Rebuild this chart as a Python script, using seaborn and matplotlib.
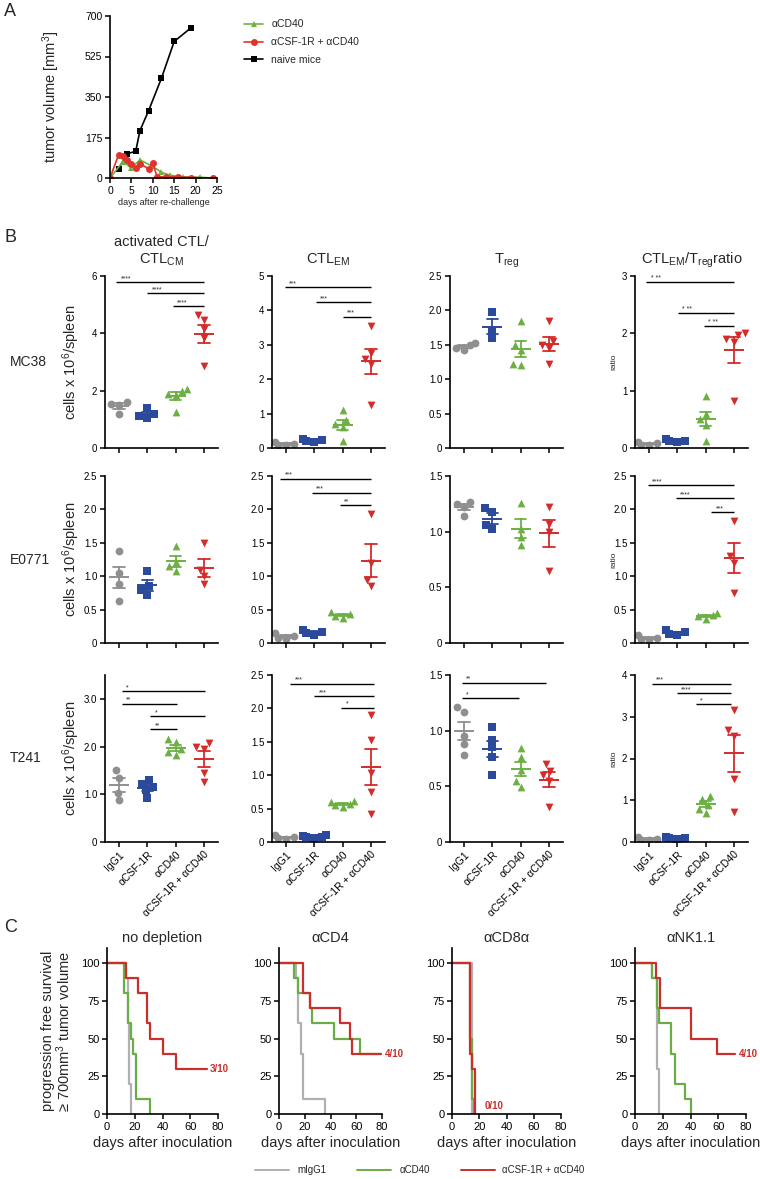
import matplotlib
matplotlib.use("Agg")
import matplotlib.pyplot as plt
from matplotlib.lines import Line2D
import numpy as np
import pandas as pd
import seaborn as sns

# ---------------- data ----------------
groups = ["IgG1", "αCSF-1R", "αCD40", "αCSF-1R + αCD40"]
group_colors = ["#8f8f8f", "#2c4a9c", "#6cb044", "#d42b2b"]
group_markers = ["o", "s", "^", "v"]

# panel A: tumor volume after re-challenge
a_days_naive = [2, 4, 6, 7, 9, 12, 15, 19]
a_vol_naive = [40, 105, 115, 205, 290, 430, 590, 650]
a_days_cd40 = [0, 3, 5, 7, 10, 12, 14, 17, 21, 24]
a_vol_cd40 = [0, 70, 45, 78, 50, 25, 12, 5, 3, 0]
a_days_combo = [0, 2, 3, 4, 5, 6, 7, 9, 10, 11, 13, 16, 19, 24]
a_vol_combo = [0, 100, 95, 78, 60, 45, 62, 40, 65, 5, 5, 5, 2, 0]

# panel B: cells x 10^6 / spleen (one list per group, order = groups)
mc38_act = [[1.6, 1.55, 1.5, 1.2], [1.4, 1.2, 1.1, 1.05], [2.05, 2.0, 1.9, 1.85, 1.25], [4.65, 4.45, 4.15, 3.85, 2.85]]
mc38_em = [[0.16, 0.12, 0.1, 0.08], [0.25, 0.22, 0.2, 0.18], [1.1, 0.8, 0.7, 0.6, 0.2], [3.55, 2.75, 2.6, 2.45, 1.25]]
mc38_treg = [[1.53, 1.5, 1.46, 1.42], [1.97, 1.72, 1.6], [1.85, 1.5, 1.42, 1.22, 1.2], [1.85, 1.55, 1.5, 1.45, 1.22]]
mc38_ratio = [[0.1, 0.08, 0.06, 0.05], [0.15, 0.13, 0.12, 0.1], [0.9, 0.6, 0.5, 0.4, 0.12], [2.0, 1.97, 1.9, 1.85, 0.82]]
e0771_act = [[1.38, 1.05, 0.88, 0.63], [1.08, 0.85, 0.8, 0.72], [1.45, 1.22, 1.15, 1.08], [1.5, 1.1, 1.0, 0.88]]
e0771_em = [[0.15, 0.1, 0.08, 0.06], [0.2, 0.17, 0.15, 0.12], [0.47, 0.43, 0.4, 0.38], [1.93, 1.2, 0.95, 0.85]]
e0771_treg = [[1.27, 1.25, 1.22, 1.14], [1.21, 1.18, 1.06, 1.02], [1.26, 1.02, 0.95, 0.88], [1.22, 1.07, 1.0, 0.65]]
e0771_ratio = [[0.12, 0.08, 0.06, 0.05], [0.2, 0.16, 0.13, 0.12], [0.45, 0.42, 0.4, 0.36], [1.83, 1.3, 1.2, 0.75]]
t241_act = [[1.5, 1.35, 1.03, 0.87], [1.3, 1.22, 1.15, 1.08, 0.92], [2.15, 2.1, 1.95, 1.88, 1.82], [2.08, 2.0, 1.95, 1.45, 1.25]]
t241_em = [[0.1, 0.07, 0.06, 0.05], [0.1, 0.09, 0.08, 0.07, 0.06], [0.62, 0.6, 0.57, 0.55, 0.53], [1.9, 1.52, 1.03, 0.75, 0.42]]
t241_treg = [[1.21, 1.17, 0.95, 0.88, 0.78], [1.03, 0.92, 0.85, 0.76, 0.6], [0.84, 0.76, 0.65, 0.55, 0.49], [0.7, 0.64, 0.6, 0.55, 0.31]]
t241_ratio = [[0.12, 0.08, 0.05, 0.04], [0.12, 0.1, 0.09, 0.08], [1.1, 1.02, 0.88, 0.8, 0.7], [3.16, 2.68, 2.55, 1.52, 0.72]]

# significance bars: (from group, to group, height, stars)
mc38_act_sig = [(-0.1, 3.0, 5.78, "****"), (1.0, 3.0, 5.4, "****"), (1.9, 3.0, 4.95, "****")]
mc38_em_sig = [(-0.05, 3.0, 4.67, "***"), (1.05, 3.0, 4.23, "***"), (2.0, 3.0, 3.82, "***")]
mc38_ratio_sig = [(-0.1, 3.0, 2.89, "* **"), (1.03, 3.0, 2.35, "* **"), (1.93, 3.0, 2.12, "* **")]
e0771_em_sig = [(-0.2, 3.0, 2.46, "***"), (0.9, 3.0, 2.25, "***"), (1.9, 3.0, 2.06, "**")]
e0771_ratio_sig = [(-0.05, 3.0, 2.36, "****"), (0.95, 3.0, 2.17, "****"), (2.2, 3.0, 1.96, "***")]
t241_act_sig = [(0.1, 3.05, 3.16, "*"), (0.1, 2.05, 2.9, "**"), (1.1, 3.05, 2.64, "*"), (1.1, 2.05, 2.36, "**")]
t241_em_sig = [(0.15, 3.1, 2.37, "***"), (1.0, 3.1, 2.18, "***"), (1.95, 3.1, 2.01, "*")]
t241_treg_sig = [(-0.08, 2.9, 1.43, "**"), (-0.08, 1.95, 1.29, "*")]
t241_ratio_sig = [(0.1, 2.9, 3.79, "***"), (0.97, 2.9, 3.57, "****"), (1.65, 2.9, 3.3, "*")]

# panel C: progression free survival (step curves)
surv_labels = ["mIgG1", "αCD40", "αCSF-1R + αCD40"]
surv_colors = ["#b0b0b0", "#6aac46", "#c9302c"]
nodep_t = [[0, 14, 15, 16, 17], [0, 12, 15, 17, 19, 21, 31], [0, 14, 22, 29, 31, 40, 50, 72]]
nodep_s = [[100, 90, 60, 20, 0], [100, 80, 60, 50, 40, 10, 0], [100, 90, 80, 60, 50, 40, 30, 30]]
cd4_t = [[0, 13, 15, 17, 19, 36], [0, 12, 15, 24, 26, 43, 63, 79], [0, 19, 24, 47, 55, 57, 79]]
cd4_s = [[100, 90, 60, 40, 10, 0], [100, 90, 80, 70, 60, 50, 40, 40], [100, 80, 70, 60, 50, 40, 40]]
cd8_t = [[0, 15], [0, 13, 15, 16], [0, 13, 15, 17]]
cd8_s = [[100, 0], [100, 50, 10, 0], [100, 40, 30, 0]]
nk_t = [[0, 12, 16, 17.5], [0, 12, 15.5, 17, 26, 29, 36, 40], [0, 15, 18, 40, 59, 72]]
nk_s = [[100, 90, 30, 0], [100, 90, 70, 60, 40, 20, 10, 0], [100, 90, 70, 50, 40, 40]]
surv_titles = ["no depletion", "αCD4", "αCD8α", "αNK1.1"]
surv_counts = [("3/10", 74, 30), ("4/10", 82, 40), ("0/10", 24, 5), ("4/10", 75, 40)]

# ---------------- style ----------------
sns.set_theme(style="ticks")
plt.rcParams["font.family"] = ["Liberation Sans", "DejaVu Sans"]
plt.rcParams["mathtext.default"] = "regular"
plt.rcParams["axes.linewidth"] = 1.2
plt.rcParams["xtick.major.width"] = 1.1
plt.rcParams["ytick.major.width"] = 1.1
plt.rcParams["xtick.major.size"] = 3.5
plt.rcParams["ytick.major.size"] = 3.5
plt.rcParams["xtick.labelsize"] = 7
plt.rcParams["ytick.labelsize"] = 7

W, H = 760, 1179
fig = plt.figure(figsize=(W / 100, H / 100), dpi=100)


def box(left, top, right, bottom):
    return [left / W, 1 - bottom / H, (right - left) / W, (bottom - top) / H]


def clean(ax):
    sns.despine(ax=ax)
    ax.tick_params(colors="black", pad=2)
    for s in ax.spines.values():
        s.set_color("black")


# ---------------- panel A ----------------
axA = fig.add_axes(box(110, 16, 217, 178))
sns.lineplot(x=a_days_naive, y=a_vol_naive, color="black", marker="s", markersize=5,
             markeredgewidth=0, lw=1.2, label="naive mice", ax=axA)
sns.lineplot(x=a_days_cd40, y=a_vol_cd40, color="#6db33f", marker="^", markersize=5,
             markeredgewidth=0, lw=1.2, label="αCD40", ax=axA)
sns.lineplot(x=a_days_combo, y=a_vol_combo, color="#e0332b", marker="o", markersize=5,
             markeredgewidth=0, lw=1.2, label="αCSF-1R + αCD40", ax=axA)
axA.set_xlim(0, 25)
axA.set_ylim(0, 700)
axA.set_xticks(range(0, 26, 5))
axA.set_yticks([0, 175, 350, 525, 700])
axA.tick_params(labelsize=7.5)
axA.set_ylabel("tumor volume [mm$^3$]", fontsize=10.5)
axA.yaxis.set_label_coords(-0.45, 0.5)
axA.set_xlabel("days after re-challenge", fontsize=6.5, labelpad=2)
clean(axA)
h, l = axA.get_legend_handles_labels()
axA.legend([h[1], h[2], h[0]], [l[1], l[2], l[0]], loc="upper left",
           bbox_to_anchor=(235 / W, 1 - 10 / H), bbox_transform=fig.transFigure,
           frameon=False, fontsize=7.5, handlelength=1.8, labelspacing=0.75)

# ---------------- panel B ----------------
col_left = [105, 272, 450, 635]
row_box = [(276, 448), (476, 643), (675, 842)]
col_titles = ["activated CTL/\nCTL$_{CM}$", "CTL$_{EM}$", "T$_{reg}$", "CTL$_{EM}$/T$_{reg}$ratio"]
row_names = ["MC38", "E0771", "T241"]
row_data = [[mc38_act, mc38_em, mc38_treg, mc38_ratio],
            [e0771_act, e0771_em, e0771_treg, e0771_ratio],
            [t241_act, t241_em, t241_treg, t241_ratio]]
row_sig = [[mc38_act_sig, mc38_em_sig, [], mc38_ratio_sig],
           [[], e0771_em_sig, [], e0771_ratio_sig],
           [t241_act_sig, t241_em_sig, t241_treg_sig, t241_ratio_sig]]
# (ymax, ticks, decimals)
row_axes = [[(6, [0, 2, 4, 6], False), (5, [0, 1, 2, 3, 4, 5], False),
             (2.5, [0, 0.5, 1, 1.5, 2, 2.5], True), (3, [0, 1, 2, 3], False)],
            [(2.5, [0, 0.5, 1, 1.5, 2, 2.5], True), (2.5, [0, 0.5, 1, 1.5, 2, 2.5], True),
             (1.5, [0, 0.5, 1, 1.5], True), (2.5, [0, 0.5, 1, 1.5, 2, 2.5], True)],
            [(3.5, [0, 1, 2, 3], True), (2.5, [0, 0.5, 1, 1.5, 2, 2.5], True),
             (1.5, [0, 0.5, 1, 1.5], True), (4, [0, 1, 2, 3, 4], False)]]

for r in range(3):
    top, bottom = row_box[r]
    for c in range(4):
        ax = fig.add_axes(box(col_left[c], top, col_left[c] + 113, bottom))
        values = row_data[r][c]
        df = pd.DataFrame({"group": np.repeat(groups, [len(v) for v in values]),
                           "value": np.concatenate(values)})
        for g, col, m in zip(groups, group_colors, group_markers):
            sub = df[df["group"] == g]
            sns.swarmplot(data=sub, x="group", y="value", order=groups, color=col,
                          marker=m, size=5.6, linewidth=0, ax=ax, zorder=2)
            sns.pointplot(data=sub, x="group", y="value", order=groups, color=col,
                          errorbar="se", capsize=0.4, marker="_", markersize=15,
                          markeredgewidth=1.4, linestyle="none",
                          err_kws={"linewidth": 1.3}, ax=ax, zorder=3)
        for x0, x1, y, stars in row_sig[r][c]:
            ax.plot([x0, x1], [y, y], color="black", lw=1.0, solid_capstyle="butt")
            ax.text(x0 + 0.15, y, stars, fontsize=5, ha="left", va="bottom")
        ymax, ticks, dec = row_axes[r][c]
        ax.set_ylim(0, ymax)
        ax.set_xlim(-0.5, 3.5)
        ax.set_yticks(ticks)
        ax.set_yticklabels(["0"] + [f"{t:.1f}" if dec else f"{t:g}" for t in ticks[1:]])
        ax.set_xlabel("")
        ax.set_ylabel("")
        clean(ax)
        ax.set_xticks(range(4))
        if r == 2:
            ax.set_xticklabels(groups, rotation=45, ha="right", rotation_mode="anchor", fontsize=7.5)
        else:
            ax.set_xticklabels([])
        if r == 0:
            ax.set_title(col_titles[c], fontsize=10.5, pad=9)
        if c == 0:
            ax.set_ylabel("cells x 10$^6$/spleen", fontsize=10.5)
            ax.yaxis.set_label_coords(-0.2, 0.5)
            fig.text(10 / W, 1 - (top + bottom) / 2 / H, row_names[r], fontsize=10, va="center")
        if c == 3:
            ax.set_ylabel("ratio", fontsize=6)
            ax.yaxis.set_label_coords(-0.16, 0.5)

# ---------------- panel C ----------------
c_left = [(107, 218), (279, 382), (452, 561), (635, 746)]
c_times = [nodep_t, cd4_t, cd8_t, nk_t]
c_surv = [nodep_s, cd4_s, cd8_s, nk_s]
for i in range(4):
    ax = fig.add_axes(box(c_left[i][0], 948, c_left[i][1], 1114))
    for t, s, col in zip(c_times[i], c_surv[i], surv_colors):
        sns.lineplot(x=t, y=s, color=col, lw=1.6, drawstyle="steps-post", ax=ax)
    txt, tx, ty = surv_counts[i]
    ax.text(tx, ty, txt, color="#c9302c", fontsize=7, fontweight="bold", va="center",
            ha="left", clip_on=False)
    ax.set_xlim(0, 80)
    ax.set_ylim(0, 110)
    ax.set_xticks([0, 20, 40, 60, 80])
    ax.set_yticks([0, 25, 50, 75, 100])
    ax.set_title(surv_titles[i], fontsize=10.5, pad=4)
    ax.set_xlabel("days after inoculation", fontsize=10.5, labelpad=3)
    ax.tick_params(labelsize=8)
    clean(ax)
    if i == 0:
        ax.set_ylabel("progression free survival\n≥ 700mm$^3$ tumor volume", fontsize=10.5,
                      linespacing=0.95)
        ax.yaxis.set_label_coords(-0.31, 0.5)

handles = [Line2D([], [], color=c, lw=1.4) for c in surv_colors]
fig.legend(handles, surv_labels, loc="center", bbox_to_anchor=(420 / W, 1 - 1170 / H),
           ncol=3, frameon=False, fontsize=7, handlelength=3.5, columnspacing=3.2)

# panel letters
for letter, y in [("A", 12), ("B", 238), ("C", 928)]:
    fig.text(4 / W, 1 - y / H, letter, fontsize=13, va="center")

fig.savefig("out.png", dpi=100)
